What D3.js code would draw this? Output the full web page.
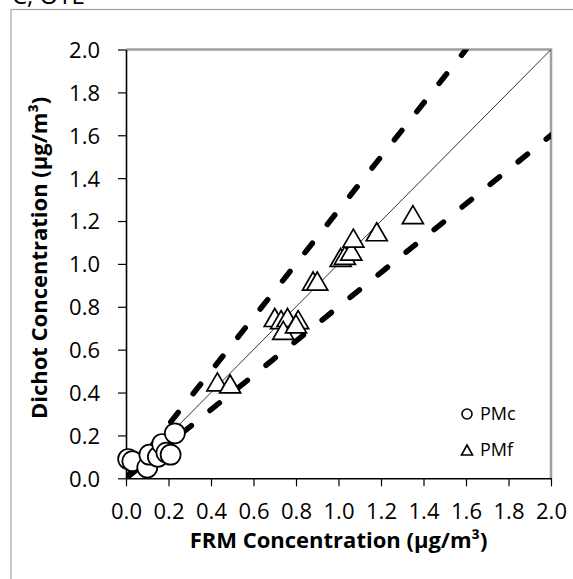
<!DOCTYPE html>
<html>
<head>
<meta charset="utf-8">
<script src="https://cdn.jsdelivr.net/npm/d3@7"></script>
<style>
  body { margin: 0; background: #fff; }
  svg { display: block; font-family: 'Open Sans', sans-serif; }
</style>
</head>
<body>
<div id="chart"></div>
<script>
/* ============================================
   DICHOT vs FRM SCATTER
   ============================================ */

// PMc (coarse) points
const pmcX = [0.01, 0.03, 0.10, 0.11, 0.15, 0.17, 0.19, 0.21, 0.23];
const pmcY = [0.09, 0.08, 0.05, 0.11, 0.10, 0.16, 0.12, 0.11, 0.21];

// PMf (fine) points
const pmfX = [0.43, 0.49, 0.70, 0.73, 0.76, 0.74, 0.81, 0.80, 0.88, 0.90, 1.01, 1.03, 1.06, 1.07, 1.18, 1.35];
const pmfY = [0.45, 0.44, 0.75, 0.74, 0.75, 0.69, 0.74, 0.72, 0.92, 0.92, 1.03, 1.04, 1.06, 1.12, 1.15, 1.23];

// reference lines: 1:1 and the two bound lines
const oneToOne = [[0, 0], [2, 2]];
const upperBound = [[0, 0], [1.6, 2.0]];
const lowerBound = [[0, 0], [2.0, 1.6]];

const tickValues = [0, 0.2, 0.4, 0.6, 0.8, 1.0, 1.2, 1.4, 1.6, 1.8, 2.0];
const legendItems = ['PMc', 'PMf'];

const width = 573;
const height = 579;
const plot = { left: 126, right: 551, top: 49.5, bottom: 478.3 };

const svg = d3.select('#chart')
  .append('svg')
  .attr('width', width)
  .attr('height', height);

// cut-off panel label above the frame
svg.append('text')
  .attr('x', 12)
  .attr('y', 4)
  .attr('font-size', 24)
  .text('C, OTL');

// outer chart frame
svg.append('rect')
  .attr('x', 11)
  .attr('y', 9.5)
  .attr('width', 700)
  .attr('height', 700)
  .attr('fill', 'none')
  .attr('stroke', '#a6a6a6')
  .attr('stroke-width', 1.2);

const x = d3.scaleLinear().domain([0, 2]).range([plot.left, plot.right]);
const y = d3.scaleLinear().domain([0, 2]).range([plot.bottom, plot.top]);

// plot area border (top / right grey)
svg.append('path')
  .attr('d', `M${plot.left},${plot.top}H${plot.right}V${plot.bottom}`)
  .attr('fill', 'none')
  .attr('stroke', '#a0a0a0')
  .attr('stroke-width', 2.5);

// axes
const fmt = d3.format('.1f');

const xAxis = svg.append('g')
  .attr('transform', `translate(0,${plot.bottom})`)
  .call(d3.axisBottom(x).tickValues(tickValues).tickFormat(fmt).tickSize(8).tickSizeOuter(0));

const yAxis = svg.append('g')
  .attr('transform', `translate(${plot.left},0)`)
  .call(d3.axisLeft(y).tickValues(tickValues).tickFormat(fmt).tickSize(8).tickSizeOuter(0));

[xAxis, yAxis].forEach(g => {
  g.select('.domain').attr('stroke', '#000').attr('stroke-width', 1.6);
  g.selectAll('.tick line').attr('stroke', '#000').attr('stroke-width', 1.2);
  g.selectAll('.tick text')
    .attr('font-family', "'Open Sans', sans-serif")
    .attr('font-size', 22)
    .attr('fill', '#000');
});
xAxis.selectAll('.tick text').attr('dy', null).attr('y', 41);
yAxis.selectAll('.tick text').attr('x', -26).attr('dy', '0.36em');

// axis titles
svg.append('text')
  .attr('x', (plot.left + plot.right) / 2)
  .attr('y', 548)
  .attr('text-anchor', 'middle')
  .attr('font-size', 22)
  .attr('font-weight', 'bold')
  .text('FRM Concentration (µg/m³)');

svg.append('text')
  .attr('transform', `translate(47,${(plot.top + plot.bottom) / 2 - 6}) rotate(-90)`)
  .attr('text-anchor', 'middle')
  .attr('font-size', 22)
  .attr('font-weight', 'bold')
  .text('Dichot Concentration (µg/m³)');

svg.append('clipPath')
  .attr('id', 'plotClip')
  .append('rect')
  .attr('x', plot.left)
  .attr('y', plot.top)
  .attr('width', plot.right - plot.left)
  .attr('height', plot.bottom - plot.top);

const line = d3.line().x(d => x(d[0])).y(d => y(d[1]));

const inner = svg.append('g').attr('clip-path', 'url(#plotClip)');

inner.append('path')
  .attr('d', line(oneToOne))
  .attr('fill', 'none')
  .attr('stroke', '#000')
  .attr('stroke-width', 0.8);

// triangle marker path, centred on the point
const tri = (cx, cy, w, h) =>
  `M${cx},${cy - h / 2}L${cx + w / 2},${cy + h / 2}L${cx - w / 2},${cy + h / 2}Z`;

svg.append('g')
  .selectAll('path')
  .data(pmfX.map((v, i) => [v, pmfY[i]]))
  .join('path')
  .attr('d', d => tri(x(d[0]), y(d[1]), 21, 18))
  .attr('fill', '#fff')
  .attr('stroke', '#000')
  .attr('stroke-width', 1.7);

svg.append('g')
  .selectAll('circle')
  .data(pmcX.map((v, i) => [v, pmcY[i]]))
  .join('circle')
  .attr('cx', d => x(d[0]))
  .attr('cy', d => y(d[1]))
  .attr('r', 10)
  .attr('fill', '#fff')
  .attr('stroke', '#000')
  .attr('stroke-width', 1.7);

// dashed bound lines on top
[upperBound, lowerBound].forEach(pts => {
  inner.append('path')
    .attr('d', line(pts))
    .attr('fill', 'none')
    .attr('stroke', '#000')
    .attr('stroke-width', 5.5)
    .attr('stroke-linecap', 'round')
    .attr('stroke-dasharray', '12,24');
});

// legend
const legend = svg.append('g');
legendItems.forEach((name, i) => {
  const ly = 414 + i * 36;
  if (name === 'PMc') {
    legend.append('circle')
      .attr('cx', 467).attr('cy', ly)
      .attr('r', 5)
      .attr('fill', '#fff').attr('stroke', '#000').attr('stroke-width', 1.6);
  } else {
    legend.append('path')
      .attr('d', tri(467, ly, 11, 10))
      .attr('fill', '#fff').attr('stroke', '#000').attr('stroke-width', 1.6);
  }
  legend.append('text')
    .attr('x', 480)
    .attr('y', ly)
    .attr('dy', '0.35em')
    .attr('font-size', 18)
    .text(name);
});
</script>
</body>
</html>
